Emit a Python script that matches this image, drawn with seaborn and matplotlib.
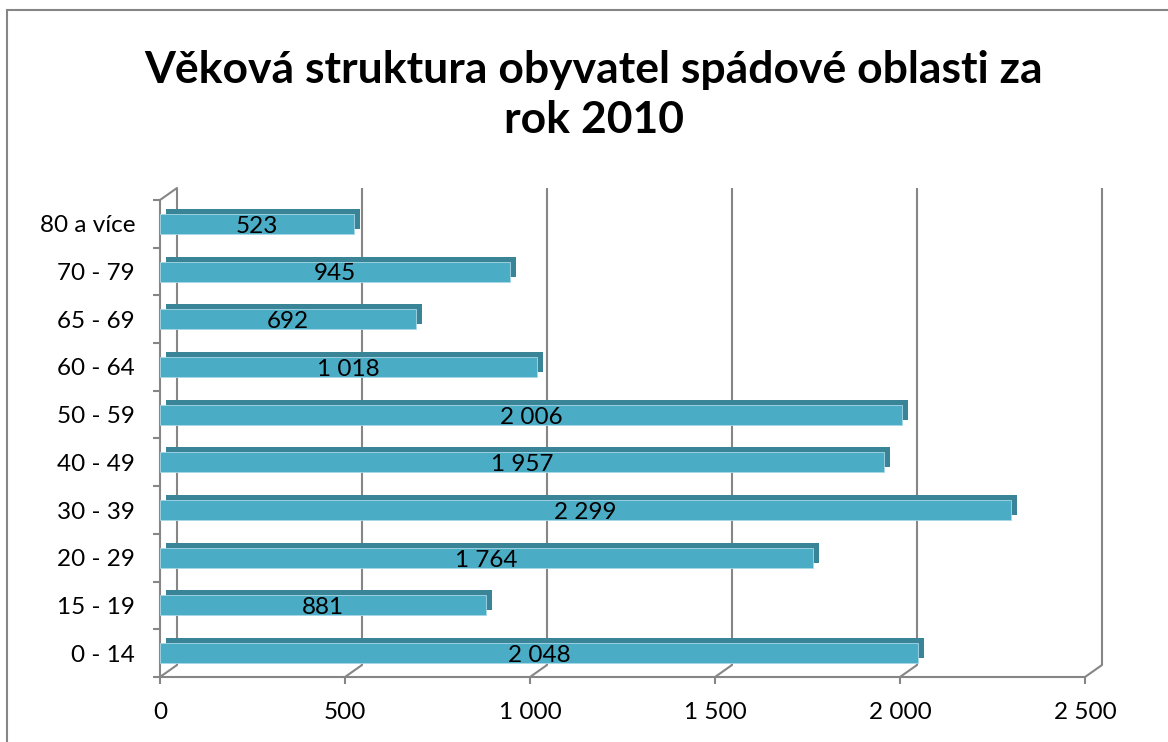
import matplotlib
matplotlib.use("Agg")
import matplotlib.pyplot as plt
import seaborn as sns
import pandas as pd
import numpy as np
from matplotlib.transforms import offset_copy
from matplotlib.patches import Rectangle

# ---- data ----
categories = ["80 a více", "70 - 79", "65 - 69", "60 - 64", "50 - 59",
              "40 - 49", "30 - 39", "20 - 29", "15 - 19", "0 - 14"]
values = [523, 945, 692, 1018, 2006, 1957, 2299, 1764, 881, 2048]
x_ticks = [0, 500, 1000, 1500, 2000, 2500]
title = "Věková struktura obyvatel spádové oblasti za\nrok 2010"


def fmt(v):
    return f"{v:,}".replace(",", " ")


sns.set_theme(style="white")
plt.rcParams["font.family"] = ["Lato", "DejaVu Sans"]
plt.rcParams["text.color"] = "black"
plt.rcParams["xtick.labelcolor"] = "black"
plt.rcParams["ytick.labelcolor"] = "black"

W, H = 1168, 742
GRAY = "#868686"
FRONT = "#4BACC6"
SIDE = "#3A8497"

fig = plt.figure(figsize=(W / 100, H / 100), dpi=100)
ax = fig.add_axes([160 / W, (H - 677) / H, 925 / W, 477 / H])

df = pd.DataFrame({"cat": categories, "val": values})

# depth (shadow) bars
sns.barplot(data=df, x="val", y="cat", orient="h", color=SIDE, saturation=1,
            width=0.42, ax=ax, errorbar=None)
depth = offset_copy(ax.transData, fig=fig, x=6, y=5, units="dots")
for p in ax.patches:
    p.set_transform(depth)
    p.set_zorder(2)
    p.set_linewidth(0)
n_shadow = len(ax.patches)

# front faces
sns.barplot(data=df, x="val", y="cat", orient="h", color=FRONT, saturation=1,
            width=0.42, ax=ax, errorbar=None)
for p in ax.patches[n_shadow:]:
    p.set_zorder(3)
    p.set_edgecolor("#A8D8E5")
    p.set_linewidth(0.6)

ax.set_xlim(0, 2500)
ax.set_ylim(len(categories) - 0.5, -0.5)

# back wall gridlines
back = offset_copy(ax.transData, fig=fig, x=17, y=12, units="dots")
ax.vlines(x_ticks, len(categories) - 0.5, -0.5, transform=back, colors=GRAY,
          lw=1.5, clip_on=False, zorder=0)
# floor diagonals
for xt in x_ticks:
    ax.annotate("", xy=(xt, len(categories) - 0.5), xycoords="data",
                xytext=(17, 12), textcoords="offset pixels",
                arrowprops=dict(arrowstyle="-", color=GRAY, lw=1.5,
                                shrinkA=0, shrinkB=0), annotation_clip=False)
# top-left diagonal of side wall
ax.annotate("", xy=(0, -0.5), xycoords="data", xytext=(17, 12),
            textcoords="offset pixels",
            arrowprops=dict(arrowstyle="-", color=GRAY, lw=1.5,
                            shrinkA=0, shrinkB=0), annotation_clip=False)

# data labels
for i, v in enumerate(values):
    ax.text(v / 2, i + 0.05, fmt(v), ha="center", va="center", fontsize=17.5,
            color="black", zorder=5)

# axes styling
for s in ["top", "right"]:
    ax.spines[s].set_visible(False)
for s in ["left", "bottom"]:
    ax.spines[s].set_color(GRAY)
    ax.spines[s].set_linewidth(1.5)

ax.set_xticks(x_ticks)
ax.set_xticklabels([fmt(t) for t in x_ticks])
ax.set_yticks(range(len(categories)))
ax.set_yticklabels(categories)
ax.set_yticks(np.arange(-0.5, len(categories), 1), minor=True)
ax.tick_params(axis="y", which="major", length=0, pad=18, labelsize=17.5,
               labelcolor="black")
ax.tick_params(axis="y", which="minor", length=5, width=1.5, color=GRAY,
               left=True)
ax.tick_params(axis="x", which="major", length=5, width=1.5, color=GRAY,
               bottom=True, pad=13, labelsize=17.5, labelcolor="black")
ax.set_xlabel("")
ax.set_ylabel("")
ax.patch.set_alpha(0)

fig.text(594 / W, 1 - 95 / H, title, ha="center", va="center", fontsize=32,
         fontweight="bold", linespacing=1.3, color="black")

# chart area border
fig.add_artist(Rectangle((7 / W, -0.05), (1200 - 7) / W, (H - 10) / H + 0.05,
                         transform=fig.transFigure, fill=False,
                         edgecolor=GRAY, lw=1.5, zorder=10))

fig.savefig("out.png", dpi=100)
